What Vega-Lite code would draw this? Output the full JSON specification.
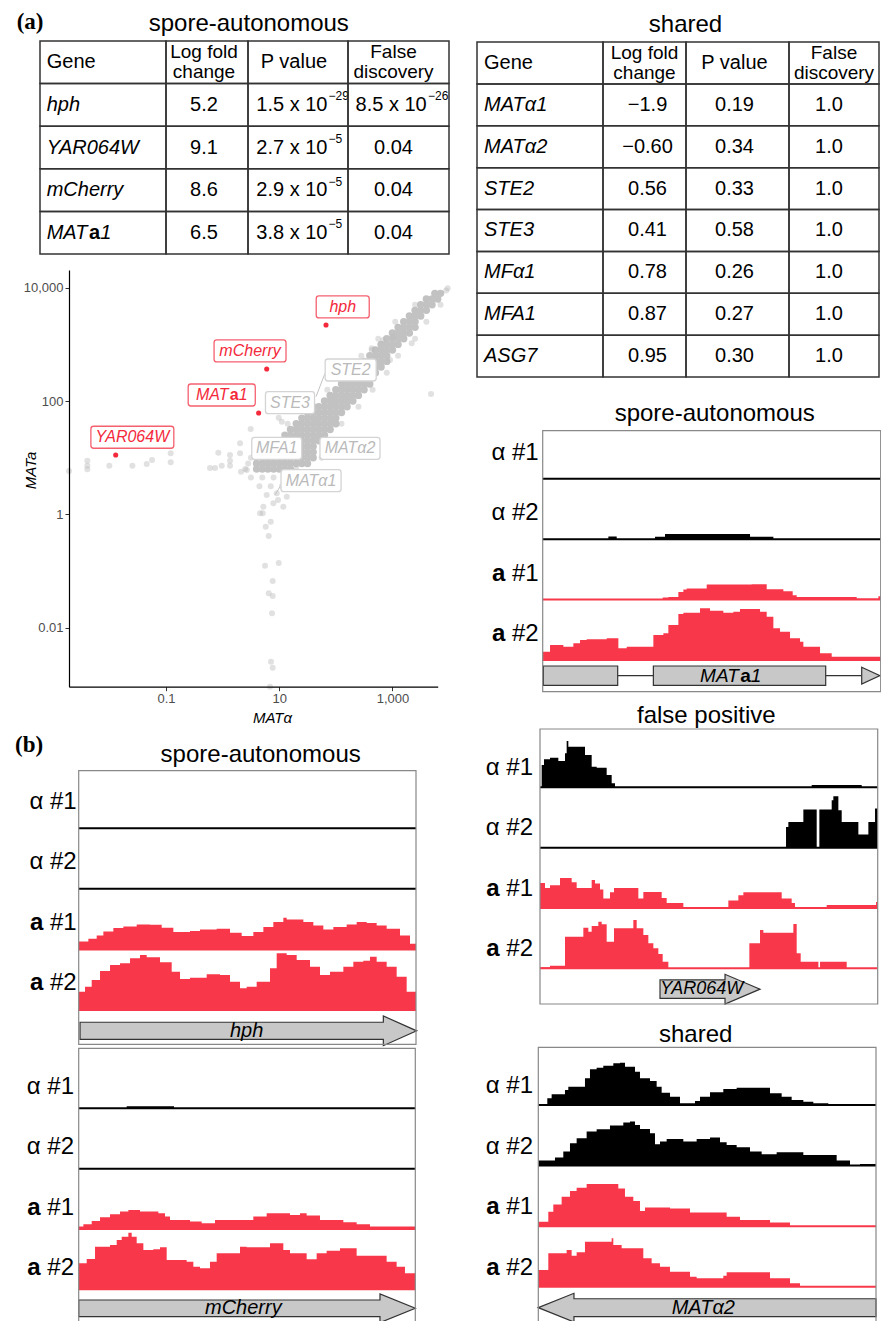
{
"$schema":"https://vega.github.io/schema/vega-lite/v6.json",
"width":881,"height":1321,"padding":0,"autosize":{"type":"none"},"background":"white",
"config":{"view":{"stroke":null},"font":"Liberation Sans","text":{"font":"Liberation Sans","color":"#000"}},
"datasets":{
"t1":[
{"r":"h","g":"Gene","l":"Log fold\nchange","p":"P value","f":"False\ndiscovery"},
{"r":"hph","g":"hph","l":"5.2","pb":"1.5 x 10","pe":"−29","fb":"8.5 x 10","fe":"−26"},
{"r":"YAR064W","g":"YAR064W","l":"9.1","pb":"2.7 x 10","pe":"−5","f":"0.04"},
{"r":"mCherry","g":"mCherry","l":"8.6","pb":"2.9 x 10","pe":"−5","f":"0.04"},
{"r":"MATa1","g":"MATa1","l":"6.5","pb":"3.8 x 10","pe":"−5","f":"0.04"}],
"t2":[
{"r":"h","g":"Gene","l":"Log fold\nchange","p":"P value","f":"False\ndiscovery"},
{"r":"MATα1","g":"MATα1","l":"−1.9","p":"0.19","f":"1.0"},
{"r":"MATα2","g":"MATα2","l":"−0.60","p":"0.34","f":"1.0"},
{"r":"STE2","g":"STE2","l":"0.56","p":"0.33","f":"1.0"},
{"r":"STE3","g":"STE3","l":"0.41","p":"0.58","f":"1.0"},
{"r":"MFα1","g":"MFα1","l":"0.78","p":"0.26","f":"1.0"},
{"r":"MFA1","g":"MFA1","l":"0.87","p":"0.27","f":"1.0"},
{"r":"ASG7","g":"ASG7","l":"0.95","p":"0.30","f":"1.0"}],
"core":[
{"a":5623,"b":7943},{"a":7079,"b":7943},
{"a":3981,"b":6310},{"a":5012,"b":6310},{"a":6310,"b":6310},
{"a":3162,"b":5012},{"a":3981,"b":5012},{"a":5012,"b":5012},
{"a":2512,"b":3981},{"a":3162,"b":3981},{"a":3981,"b":3981},
{"a":1995,"b":3162},{"a":2512,"b":3162},{"a":3162,"b":3162},
{"a":1585,"b":2512},{"a":1995,"b":2512},{"a":2512,"b":2512},
{"a":1259,"b":1995},{"a":1585,"b":1995},{"a":1995,"b":1995},{"a":2512,"b":1995},
{"a":1000,"b":1585},{"a":1259,"b":1585},{"a":1585,"b":1585},{"a":1995,"b":1585},
{"a":794,"b":1259},{"a":1000,"b":1259},{"a":1259,"b":1259},{"a":1585,"b":1259},
{"a":631,"b":1000},{"a":794,"b":1000},{"a":1000,"b":1000},{"a":1259,"b":1000},
{"a":501,"b":794},{"a":631,"b":794},{"a":794,"b":794},{"a":1000,"b":794},
{"a":398,"b":631},{"a":501,"b":631},{"a":631,"b":631},{"a":794,"b":631},
{"a":316,"b":501},{"a":398,"b":501},{"a":501,"b":501},{"a":631,"b":501},{"a":794,"b":501},
{"a":251,"b":398},{"a":316,"b":398},{"a":398,"b":398},{"a":501,"b":398},{"a":631,"b":398},
{"a":200,"b":316},{"a":251,"b":316},{"a":316,"b":316},{"a":398,"b":316},{"a":501,"b":316},
{"a":158,"b":251},{"a":200,"b":251},{"a":251,"b":251},{"a":316,"b":251},{"a":398,"b":251},
{"a":126,"b":200},{"a":158,"b":200},{"a":200,"b":200},{"a":251,"b":200},{"a":316,"b":200},{"a":398,"b":200},
{"a":100,"b":158},{"a":126,"b":158},{"a":158,"b":158},{"a":200,"b":158},{"a":251,"b":158},{"a":316,"b":158},
{"a":79.4,"b":126},{"a":100,"b":126},{"a":126,"b":126},{"a":158,"b":126},{"a":200,"b":126},{"a":251,"b":126},
{"a":63.1,"b":100},{"a":79.4,"b":100},{"a":100,"b":100},{"a":126,"b":100},{"a":158,"b":100},{"a":200,"b":100},
{"a":39.8,"b":79.4},{"a":50.1,"b":79.4},{"a":63.1,"b":79.4},{"a":79.4,"b":79.4},{"a":100,"b":79.4},{"a":126,"b":79.4},{"a":158,"b":79.4},
{"a":31.6,"b":63.1},{"a":39.8,"b":63.1},{"a":50.1,"b":63.1},{"a":63.1,"b":63.1},{"a":79.4,"b":63.1},{"a":100,"b":63.1},{"a":126,"b":63.1},
{"a":25.1,"b":50.1},{"a":31.6,"b":50.1},{"a":39.8,"b":50.1},{"a":50.1,"b":50.1},{"a":63.1,"b":50.1},{"a":79.4,"b":50.1},{"a":100,"b":50.1},
{"a":20,"b":39.8},{"a":25.1,"b":39.8},{"a":31.6,"b":39.8},{"a":39.8,"b":39.8},{"a":50.1,"b":39.8},{"a":63.1,"b":39.8},{"a":79.4,"b":39.8},{"a":100,"b":39.8},
{"a":15.8,"b":31.6},{"a":20,"b":31.6},{"a":25.1,"b":31.6},{"a":31.6,"b":31.6},{"a":39.8,"b":31.6},{"a":50.1,"b":31.6},{"a":63.1,"b":31.6},{"a":79.4,"b":31.6},
{"a":12.6,"b":25.1},{"a":15.8,"b":25.1},{"a":20,"b":25.1},{"a":25.1,"b":25.1},{"a":31.6,"b":25.1},{"a":39.8,"b":25.1},{"a":50.1,"b":25.1},{"a":63.1,"b":25.1},
{"a":10,"b":20},{"a":12.6,"b":20},{"a":15.8,"b":20},{"a":20,"b":20},{"a":25.1,"b":20},{"a":31.6,"b":20},{"a":39.8,"b":20},{"a":50.1,"b":20},
{"a":7.94,"b":15.8},{"a":10,"b":15.8},{"a":12.6,"b":15.8},{"a":15.8,"b":15.8},{"a":20,"b":15.8},{"a":25.1,"b":15.8},{"a":31.6,"b":15.8},{"a":39.8,"b":15.8},
{"a":6.31,"b":12.6},{"a":7.94,"b":12.6},{"a":10,"b":12.6},{"a":12.6,"b":12.6},{"a":15.8,"b":12.6},{"a":20,"b":12.6},{"a":25.1,"b":12.6},{"a":31.6,"b":12.6},{"a":39.8,"b":12.6},
{"a":5.01,"b":10},{"a":6.31,"b":10},{"a":7.94,"b":10},{"a":10,"b":10},{"a":12.6,"b":10},{"a":15.8,"b":10},{"a":20,"b":10},{"a":25.1,"b":10},{"a":31.6,"b":10},{"a":39.8,"b":10},
{"a":3.98,"b":7.94},{"a":5.01,"b":7.94},{"a":6.31,"b":7.94},{"a":7.94,"b":7.94},{"a":10,"b":7.94},{"a":12.6,"b":7.94},{"a":15.8,"b":7.94},{"a":20,"b":7.94},{"a":25.1,"b":7.94},{"a":31.6,"b":7.94},
{"a":3.98,"b":6.31},{"a":5.01,"b":6.31},{"a":6.31,"b":6.31},{"a":7.94,"b":6.31},{"a":10,"b":6.31},{"a":12.6,"b":6.31},{"a":15.8,"b":6.31}],
"sc":[
{"a":0.00193,"b":5.85},{"a":0.00407,"b":8.89},{"a":0.00407,"b":7.26},{"a":0.00407,"b":6.27},{"a":0.00996,"b":7.26},{"a":0.0254,"b":7.26},{"a":0.0456,"b":7.78},{"a":0.0566,"b":9.14},{"a":0.121,"b":12.0},{"a":0.121,"b":8.34},
{"a":0.598,"b":6.61},{"a":0.734,"b":6.61},{"a":0.84,"b":12.3},{"a":0.964,"b":7.26},{"a":1.35,"b":11.2},{"a":1.35,"b":7.26},{"a":2.03,"b":18.0},{"a":2.03,"b":12.0},{"a":2.11,"b":5.69},{"a":3.13,"b":32.2},{"a":2.67,"b":6.10},{"a":1.35,"b":8.89},
{"a":5.11,"b":1.05},{"a":5.77,"b":0.61},{"a":7.08,"b":0.746},{"a":6.53,"b":0.418},{"a":5.61,"b":0.125},{"a":9.8,"b":0.14},{"a":7.67,"b":0.0671},{"a":6.53,"b":0.0407},{"a":7.67,"b":0.0365},{"a":7.46,"b":0.0181},{"a":7.16,"b":0.00254},{"a":7.67,"b":0.00199},{"a":6.87,"b":0.000918},
{"a":6.01,"b":2.21},{"a":7.87,"b":1.58},{"a":9.04,"b":2.37},{"a":11.8,"b":1.37},{"a":13.6,"b":2.06},{"a":9.53,"b":1.8},{"a":5.24,"b":1.37},{"a":4.58,"b":1.05},
{"a":4808,"b":133},{"a":2193,"b":1045},{"a":908,"b":531},{"a":690,"b":1197},{"a":1038,"b":1368},{"a":9484,"b":9750},{"a":431,"b":853},{"a":431,"b":796},{"a":8913,"b":8913},
{"a":9.8,"b":50.9},{"a":11.1,"b":43.4},
{"a":3.16,"b":10},{"a":56.2,"b":10},{"a":7.08,"b":20},{"a":70.8,"b":20},{"a":14.1,"b":39.8},{"a":126,"b":39.8},{"a":31.6,"b":79.4},{"a":251,"b":79.4},{"a":70.8,"b":158},{"a":447,"b":158},{"a":141,"b":316},{"a":794,"b":316},{"a":282,"b":631},{"a":1259,"b":631},{"a":562,"b":1259},{"a":2512,"b":1259},{"a":1122,"b":2512},{"a":3981,"b":2512},{"a":2512,"b":5012},{"a":7079,"b":5012},
{"a":2.51,"b":6.31},{"a":20,"b":6.31},{"a":3.16,"b":4.47},{"a":5.01,"b":4.47},{"a":7.94,"b":4.47},{"a":12.6,"b":4.47},{"a":17.8,"b":4.47},{"a":4.47,"b":3.16},{"a":7.08,"b":3.16},{"a":11.2,"b":3.16},{"a":2.82,"b":7.94}],
"sig":[{"lab":"hph","a":67.1,"b":2198},{"lab":"mCherry","a":6.01,"b":368},{"lab":"MATa1","a":4.33,"b":61.7},{"lab":"YAR064W","a":0.0129,"b":11.2}],
"labs":[
{"lab":"hph","c":"s","a":132.4,"b":4571},
{"lab":"mCherry","c":"s","a":3.05,"b":766},
{"lab":"MATa1","c":"s","a":0.964,"b":128},
{"lab":"YAR064W","c":"s","a":0.0254,"b":23.0},
{"lab":"STE2","c":"h","a":183,"b":353,"px":44.7,"py":120,"qx":64.4,"qy":309},
{"lab":"STE3","c":"h","a":15.5,"b":93.8},
{"lab":"MFA1","c":"h","a":9.04,"b":14.7},
{"lab":"MATα2","c":"h","a":178,"b":14.7},
{"lab":"MATα1","c":"h","a":36.5,"b":3.94,"px":8.43,"py":2.21,"qx":10.3,"qy":3.09}],
"panels":[
{"p":"P1","title":"spore-autonomous","gene":"MATa1"},
{"p":"P2","title":"false positive","gene":"YAR064W"},
{"p":"P3","title":"shared","gene":"MATα2"},
{"p":"P4","title":"spore-autonomous","gene":"hph"},
{"p":"P5","title":"","gene":"mCherry"}],
"trk":[
{"p":"P1","t":"α #1","n":"#1","s":"α"},{"p":"P1","t":"α #2","n":"#2","s":"α"},{"p":"P1","t":"a #1","n":"#1","s":"a"},{"p":"P1","t":"a #2","n":"#2","s":"a"},
{"p":"P2","t":"α #1","n":"#1","s":"α"},{"p":"P2","t":"α #2","n":"#2","s":"α"},{"p":"P2","t":"a #1","n":"#1","s":"a"},{"p":"P2","t":"a #2","n":"#2","s":"a"},
{"p":"P3","t":"α #1","n":"#1","s":"α"},{"p":"P3","t":"α #2","n":"#2","s":"α"},{"p":"P3","t":"a #1","n":"#1","s":"a"},{"p":"P3","t":"a #2","n":"#2","s":"a"},
{"p":"P4","t":"α #1","n":"#1","s":"α"},{"p":"P4","t":"α #2","n":"#2","s":"α"},{"p":"P4","t":"a #1","n":"#1","s":"a"},{"p":"P4","t":"a #2","n":"#2","s":"a"},
{"p":"P5","t":"α #1","n":"#1","s":"α"},{"p":"P5","t":"α #2","n":"#2","s":"α"},{"p":"P5","t":"a #1","n":"#1","s":"a"},{"p":"P5","t":"a #2","n":"#2","s":"a"}],
"shapes":[
{"p":"P4","id":"h","x":240,"y":0.58,"y2":-0.58},{"p":"P4","id":"h","x":1150,"y":0.58,"y2":-0.58},{"p":"P4","id":"h","x":1150,"y":1,"y2":-1},{"p":"P4","id":"h","x":1250,"y":0,"y2":0},
{"p":"P5","id":"h","x":236,"y":0.58,"y2":-0.58},{"p":"P5","id":"h","x":1140,"y":0.58,"y2":-0.58},{"p":"P5","id":"h","x":1140,"y":1,"y2":-1},{"p":"P5","id":"h","x":1246,"y":0,"y2":0},
{"p":"P2","id":"h","x":570,"y":0.62,"y2":-0.62},{"p":"P2","id":"h","x":765,"y":0.62,"y2":-0.62},{"p":"P2","id":"h","x":765,"y":1,"y2":-1},{"p":"P2","id":"h","x":870,"y":0,"y2":0},
{"p":"P3","id":"h","x":205,"y":0,"y2":0},{"p":"P3","id":"h","x":312,"y":1,"y2":-1},{"p":"P3","id":"h","x":312,"y":0.62,"y2":-0.62},{"p":"P3","id":"h","x":1218,"y":0.62,"y2":-0.62},
{"p":"P1","id":"e1","x":220,"y":1,"y2":-1},{"p":"P1","id":"e1","x":443,"y":1,"y2":-1},
{"p":"P1","id":"e2","x":550,"y":1,"y2":-1},{"p":"P1","id":"e2","x":1067,"y":1,"y2":-1},
{"p":"P1","id":"t","x":1175,"y":0.87,"y2":-0.87},{"p":"P1","id":"t","x":1230,"y":0,"y2":0}],
"lines":[{"p":"P1","s":443,"e":550},{"p":"P1","s":1067,"e":1175}],
"cov":[
{"k":"P1A2","x":218,"v":0},{"k":"P1A2","x":415,"v":8},{"k":"P1A2","x":440,"v":0},{"k":"P1A2","x":555,"v":7},{"k":"P1A2","x":585,"v":15},{"k":"P1A2","x":840,"v":7},{"k":"P1A2","x":910,"v":0},{"k":"P1A2","x":1232,"v":0},
{"k":"P1B1","x":218,"v":0},{"k":"P1B1","x":578,"v":6},{"k":"P1B1","x":595,"v":8},{"k":"P1B1","x":625,"v":23},{"k":"P1B1","x":640,"v":30},{"k":"P1B1","x":650,"v":33},{"k":"P1B1","x":710,"v":45},{"k":"P1B1","x":845,"v":46},{"k":"P1B1","x":890,"v":31},{"k":"P1B1","x":940,"v":25},{"k":"P1B1","x":968,"v":13},{"k":"P1B1","x":980,"v":8},{"k":"P1B1","x":1160,"v":3},{"k":"P1B1","x":1225,"v":10},{"k":"P1B1","x":1232,"v":10},
{"k":"P1B2","x":218,"v":25},{"k":"P1B2","x":240,"v":45},{"k":"P1B2","x":280,"v":40},{"k":"P1B2","x":310,"v":50},{"k":"P1B2","x":330,"v":60},{"k":"P1B2","x":350,"v":62},{"k":"P1B2","x":410,"v":65},{"k":"P1B2","x":445,"v":35},{"k":"P1B2","x":470,"v":40},{"k":"P1B2","x":550,"v":75},{"k":"P1B2","x":580,"v":80},{"k":"P1B2","x":595,"v":105},{"k":"P1B2","x":625,"v":138},{"k":"P1B2","x":640,"v":142},{"k":"P1B2","x":690,"v":155},{"k":"P1B2","x":720,"v":148},{"k":"P1B2","x":760,"v":142},{"k":"P1B2","x":790,"v":145},{"k":"P1B2","x":810,"v":153},{"k":"P1B2","x":870,"v":145},{"k":"P1B2","x":890,"v":130},{"k":"P1B2","x":910,"v":95},{"k":"P1B2","x":930,"v":85},{"k":"P1B2","x":960,"v":65},{"k":"P1B2","x":990,"v":55},{"k":"P1B2","x":1000,"v":40},{"k":"P1B2","x":1050,"v":20},{"k":"P1B2","x":1085,"v":10},{"k":"P1B2","x":1232,"v":10},
{"k":"P2A1","x":210,"v":0},{"k":"P2A1","x":215,"v":67},{"k":"P2A1","x":222,"v":84},{"k":"P2A1","x":240,"v":89},{"k":"P2A1","x":265,"v":79},{"k":"P2A1","x":285,"v":102},{"k":"P2A1","x":290,"v":139},{"k":"P2A1","x":295,"v":122},{"k":"P2A1","x":345,"v":97},{"k":"P2A1","x":365,"v":62},{"k":"P2A1","x":380,"v":59},{"k":"P2A1","x":410,"v":37},{"k":"P2A1","x":425,"v":12},{"k":"P2A1","x":435,"v":0},{"k":"P2A1","x":1025,"v":7},{"k":"P2A1","x":1175,"v":0},{"k":"P2A1","x":1223,"v":0},
{"k":"P2A2","x":210,"v":0},{"k":"P2A2","x":948,"v":62},{"k":"P2A2","x":955,"v":77},{"k":"P2A2","x":1000,"v":114},{"k":"P2A2","x":1040,"v":0},{"k":"P2A2","x":1048,"v":114},{"k":"P2A2","x":1085,"v":142},{"k":"P2A2","x":1090,"v":154},{"k":"P2A2","x":1105,"v":112},{"k":"P2A2","x":1115,"v":77},{"k":"P2A2","x":1165,"v":39},{"k":"P2A2","x":1195,"v":77},{"k":"P2A2","x":1215,"v":117},{"k":"P2A2","x":1223,"v":117},
{"k":"P2B1","x":210,"v":75},{"k":"P2B1","x":225,"v":60},{"k":"P2B1","x":240,"v":68},{"k":"P2B1","x":270,"v":90},{"k":"P2B1","x":305,"v":77},{"k":"P2B1","x":320,"v":60},{"k":"P2B1","x":365,"v":84},{"k":"P2B1","x":375,"v":73},{"k":"P2B1","x":390,"v":55},{"k":"P2B1","x":400,"v":28},{"k":"P2B1","x":420,"v":47},{"k":"P2B1","x":432,"v":60},{"k":"P2B1","x":505,"v":28},{"k":"P2B1","x":520,"v":48},{"k":"P2B1","x":575,"v":30},{"k":"P2B1","x":590,"v":15},{"k":"P2B1","x":640,"v":3},{"k":"P2B1","x":775,"v":22},{"k":"P2B1","x":805,"v":38},{"k":"P2B1","x":820,"v":47},{"k":"P2B1","x":935,"v":28},{"k":"P2B1","x":965,"v":15},{"k":"P2B1","x":975,"v":3},{"k":"P2B1","x":1070,"v":9},{"k":"P2B1","x":1218,"v":18},{"k":"P2B1","x":1223,"v":18},
{"k":"P2B2","x":210,"v":3},{"k":"P2B2","x":240,"v":8},{"k":"P2B2","x":285,"v":95},{"k":"P2B2","x":340,"v":122},{"k":"P2B2","x":355,"v":110},{"k":"P2B2","x":365,"v":127},{"k":"P2B2","x":385,"v":140},{"k":"P2B2","x":395,"v":132},{"k":"P2B2","x":410,"v":80},{"k":"P2B2","x":432,"v":120},{"k":"P2B2","x":490,"v":145},{"k":"P2B2","x":500,"v":120},{"k":"P2B2","x":520,"v":100},{"k":"P2B2","x":535,"v":75},{"k":"P2B2","x":550,"v":60},{"k":"P2B2","x":565,"v":43},{"k":"P2B2","x":578,"v":20},{"k":"P2B2","x":595,"v":0},{"k":"P2B2","x":838,"v":75},{"k":"P2B2","x":870,"v":115},{"k":"P2B2","x":880,"v":107},{"k":"P2B2","x":970,"v":133},{"k":"P2B2","x":980,"v":45},{"k":"P2B2","x":992,"v":20},{"k":"P2B2","x":1045,"v":0},{"k":"P2B2","x":1050,"v":20},{"k":"P2B2","x":1130,"v":0},{"k":"P2B2","x":1223,"v":0},
{"k":"P3A1","x":205,"v":0},{"k":"P3A1","x":232,"v":20},{"k":"P3A1","x":245,"v":32},{"k":"P3A1","x":285,"v":45},{"k":"P3A1","x":295,"v":55},{"k":"P3A1","x":345,"v":80},{"k":"P3A1","x":360,"v":107},{"k":"P3A1","x":380,"v":112},{"k":"P3A1","x":400,"v":118},{"k":"P3A1","x":430,"v":125},{"k":"P3A1","x":450,"v":127},{"k":"P3A1","x":465,"v":115},{"k":"P3A1","x":495,"v":100},{"k":"P3A1","x":510,"v":80},{"k":"P3A1","x":540,"v":72},{"k":"P3A1","x":560,"v":55},{"k":"P3A1","x":575,"v":37},{"k":"P3A1","x":600,"v":25},{"k":"P3A1","x":630,"v":5},{"k":"P3A1","x":675,"v":12},{"k":"P3A1","x":690,"v":25},{"k":"P3A1","x":720,"v":38},{"k":"P3A1","x":760,"v":48},{"k":"P3A1","x":800,"v":52},{"k":"P3A1","x":900,"v":35},{"k":"P3A1","x":935,"v":25},{"k":"P3A1","x":965,"v":15},{"k":"P3A1","x":1000,"v":10},{"k":"P3A1","x":1030,"v":5},{"k":"P3A1","x":1075,"v":0},{"k":"P3A1","x":1218,"v":0},
{"k":"P3A2","x":205,"v":15},{"k":"P3A2","x":255,"v":24},{"k":"P3A2","x":280,"v":42},{"k":"P3A2","x":300,"v":67},{"k":"P3A2","x":320,"v":82},{"k":"P3A2","x":350,"v":102},{"k":"P3A2","x":380,"v":109},{"k":"P3A2","x":420,"v":120},{"k":"P3A2","x":460,"v":129},{"k":"P3A2","x":480,"v":132},{"k":"P3A2","x":495,"v":122},{"k":"P3A2","x":510,"v":110},{"k":"P3A2","x":540,"v":97},{"k":"P3A2","x":555,"v":64},{"k":"P3A2","x":570,"v":72},{"k":"P3A2","x":590,"v":80},{"k":"P3A2","x":640,"v":72},{"k":"P3A2","x":680,"v":80},{"k":"P3A2","x":720,"v":84},{"k":"P3A2","x":750,"v":70},{"k":"P3A2","x":770,"v":62},{"k":"P3A2","x":800,"v":55},{"k":"P3A2","x":840,"v":42},{"k":"P3A2","x":875,"v":34},{"k":"P3A2","x":920,"v":40},{"k":"P3A2","x":1000,"v":32},{"k":"P3A2","x":1100,"v":15},{"k":"P3A2","x":1140,"v":0},{"k":"P3A2","x":1170,"v":5},{"k":"P3A2","x":1218,"v":5},
{"k":"P3B1","x":205,"v":13},{"k":"P3B1","x":235,"v":43},{"k":"P3B1","x":250,"v":65},{"k":"P3B1","x":275,"v":88},{"k":"P3B1","x":300,"v":105},{"k":"P3B1","x":320,"v":115},{"k":"P3B1","x":350,"v":126},{"k":"P3B1","x":445,"v":113},{"k":"P3B1","x":465,"v":88},{"k":"P3B1","x":490,"v":75},{"k":"P3B1","x":510,"v":45},{"k":"P3B1","x":525,"v":56},{"k":"P3B1","x":600,"v":53},{"k":"P3B1","x":660,"v":41},{"k":"P3B1","x":770,"v":28},{"k":"P3B1","x":810,"v":18},{"k":"P3B1","x":900,"v":11},{"k":"P3B1","x":960,"v":0},{"k":"P3B1","x":1218,"v":0},
{"k":"P3B2","x":205,"v":50},{"k":"P3B2","x":235,"v":100},{"k":"P3B2","x":290,"v":110},{"k":"P3B2","x":305,"v":93},{"k":"P3B2","x":320,"v":103},{"k":"P3B2","x":345,"v":135},{"k":"P3B2","x":425,"v":145},{"k":"P3B2","x":430,"v":125},{"k":"P3B2","x":455,"v":115},{"k":"P3B2","x":520,"v":85},{"k":"P3B2","x":545,"v":70},{"k":"P3B2","x":570,"v":60},{"k":"P3B2","x":600,"v":45},{"k":"P3B2","x":660,"v":30},{"k":"P3B2","x":680,"v":25},{"k":"P3B2","x":760,"v":33},{"k":"P3B2","x":770,"v":43},{"k":"P3B2","x":900,"v":25},{"k":"P3B2","x":960,"v":10},{"k":"P3B2","x":990,"v":0},{"k":"P3B2","x":1218,"v":0},
{"k":"P4B1","x":236,"v":24},{"k":"P4B1","x":265,"v":32},{"k":"P4B1","x":290,"v":42},{"k":"P4B1","x":310,"v":54},{"k":"P4B1","x":340,"v":64},{"k":"P4B1","x":370,"v":69},{"k":"P4B1","x":410,"v":75},{"k":"P4B1","x":450,"v":74},{"k":"P4B1","x":485,"v":65},{"k":"P4B1","x":520,"v":52},{"k":"P4B1","x":570,"v":55},{"k":"P4B1","x":600,"v":60},{"k":"P4B1","x":650,"v":62},{"k":"P4B1","x":690,"v":50},{"k":"P4B1","x":725,"v":40},{"k":"P4B1","x":760,"v":52},{"k":"P4B1","x":790,"v":67},{"k":"P4B1","x":820,"v":82},{"k":"P4B1","x":850,"v":95},{"k":"P4B1","x":860,"v":90},{"k":"P4B1","x":910,"v":82},{"k":"P4B1","x":940,"v":72},{"k":"P4B1","x":970,"v":60},{"k":"P4B1","x":1000,"v":67},{"k":"P4B1","x":1040,"v":75},{"k":"P4B1","x":1070,"v":82},{"k":"P4B1","x":1100,"v":79},{"k":"P4B1","x":1130,"v":72},{"k":"P4B1","x":1160,"v":62},{"k":"P4B1","x":1200,"v":42},{"k":"P4B1","x":1230,"v":17},{"k":"P4B1","x":1248,"v":17},
{"k":"P4B2","x":236,"v":55},{"k":"P4B2","x":255,"v":70},{"k":"P4B2","x":275,"v":90},{"k":"P4B2","x":300,"v":117},{"k":"P4B2","x":330,"v":135},{"k":"P4B2","x":360,"v":140},{"k":"P4B2","x":390,"v":155},{"k":"P4B2","x":420,"v":165},{"k":"P4B2","x":440,"v":158},{"k":"P4B2","x":480,"v":143},{"k":"P4B2","x":515,"v":115},{"k":"P4B2","x":540,"v":93},{"k":"P4B2","x":570,"v":97},{"k":"P4B2","x":620,"v":107},{"k":"P4B2","x":660,"v":105},{"k":"P4B2","x":690,"v":85},{"k":"P4B2","x":720,"v":65},{"k":"P4B2","x":740,"v":70},{"k":"P4B2","x":770,"v":85},{"k":"P4B2","x":810,"v":125},{"k":"P4B2","x":830,"v":170},{"k":"P4B2","x":860,"v":165},{"k":"P4B2","x":890,"v":150},{"k":"P4B2","x":930,"v":130},{"k":"P4B2","x":960,"v":105},{"k":"P4B2","x":990,"v":115},{"k":"P4B2","x":1030,"v":130},{"k":"P4B2","x":1060,"v":145},{"k":"P4B2","x":1090,"v":148},{"k":"P4B2","x":1110,"v":160},{"k":"P4B2","x":1130,"v":145},{"k":"P4B2","x":1160,"v":130},{"k":"P4B2","x":1190,"v":100},{"k":"P4B2","x":1220,"v":55},{"k":"P4B2","x":1248,"v":55},
{"k":"P5A1","x":236,"v":0},{"k":"P5A1","x":380,"v":6},{"k":"P5A1","x":522,"v":0},{"k":"P5A1","x":1246,"v":0},
{"k":"P5B1","x":236,"v":7},{"k":"P5B1","x":250,"v":14},{"k":"P5B1","x":275,"v":24},{"k":"P5B1","x":300,"v":35},{"k":"P5B1","x":330,"v":44},{"k":"P5B1","x":360,"v":52},{"k":"P5B1","x":385,"v":57},{"k":"P5B1","x":420,"v":52},{"k":"P5B1","x":475,"v":47},{"k":"P5B1","x":495,"v":37},{"k":"P5B1","x":510,"v":27},{"k":"P5B1","x":570,"v":22},{"k":"P5B1","x":605,"v":17},{"k":"P5B1","x":645,"v":27},{"k":"P5B1","x":760,"v":37},{"k":"P5B1","x":800,"v":47},{"k":"P5B1","x":870,"v":42},{"k":"P5B1","x":900,"v":47},{"k":"P5B1","x":920,"v":40},{"k":"P5B1","x":960,"v":27},{"k":"P5B1","x":1030,"v":20},{"k":"P5B1","x":1070,"v":14},{"k":"P5B1","x":1110,"v":7},{"k":"P5B1","x":1246,"v":7},
{"k":"P5B2","x":236,"v":78},{"k":"P5B2","x":260,"v":91},{"k":"P5B2","x":285,"v":128},{"k":"P5B2","x":330,"v":133},{"k":"P5B2","x":350,"v":148},{"k":"P5B2","x":365,"v":158},{"k":"P5B2","x":385,"v":170},{"k":"P5B2","x":395,"v":158},{"k":"P5B2","x":410,"v":138},{"k":"P5B2","x":430,"v":118},{"k":"P5B2","x":460,"v":120},{"k":"P5B2","x":480,"v":126},{"k":"P5B2","x":500,"v":88},{"k":"P5B2","x":560,"v":83},{"k":"P5B2","x":580,"v":68},{"k":"P5B2","x":600,"v":63},{"k":"P5B2","x":630,"v":83},{"k":"P5B2","x":650,"v":108},{"k":"P5B2","x":720,"v":128},{"k":"P5B2","x":740,"v":126},{"k":"P5B2","x":810,"v":138},{"k":"P5B2","x":850,"v":118},{"k":"P5B2","x":870,"v":108},{"k":"P5B2","x":920,"v":90},{"k":"P5B2","x":950,"v":108},{"k":"P5B2","x":980,"v":116},{"k":"P5B2","x":1020,"v":123},{"k":"P5B2","x":1070,"v":101},{"k":"P5B2","x":1160,"v":83},{"k":"P5B2","x":1190,"v":68},{"k":"P5B2","x":1215,"v":48},{"k":"P5B2","x":1246,"v":48}]
},
"layer":[
{"layer":[
  {"data":{"name":"core"},"mark":{"type":"circle","size":55,"color":"#c2c2c2","opacity":1},
   "encoding":{"x":{"field":"a","type":"quantitative","scale":{"type":"log","domain":[0.00193,6310],"range":[69,437.7],"nice":false,"zero":false},
     "axis":{"orient":"bottom","offset":-634.3,"zindex":1,"values":[0.1,10,1000],"format":",","grid":false,"title":"MATα","titleX":272,"titleY":30.3,"titleAlign":"center","titleBaseline":"middle","titleFont":"Liberation Sans","titleFontStyle":"italic","titleFontWeight":"normal","titleFontSize":15,"titleColor":"#000","labelFont":"Liberation Sans","labelFontSize":13,"labelColor":"#4d4d4d","labelPadding":2,"tickColor":"#333","tickSize":4,"domainColor":"#000","domainWidth":1.2}},
    "y":{"field":"b","type":"quantitative","scale":{"type":"log","domain":[0.000918,20500],"range":[686.7,270],"nice":false,"zero":false},
     "axis":{"orient":"left","offset":-69,"zindex":1,"values":[0.01,1,100,10000],"format":",","grid":false,"title":"MATa","titleX":-39,"titleY":470,"titleAngle":270,"titleAlign":"center","titleBaseline":"middle","titleFont":"Liberation Sans","titleFontStyle":"italic","titleFontWeight":"normal","titleFontSize":15,"titleColor":"#000","labelFont":"Liberation Sans","labelFontSize":13,"labelColor":"#4d4d4d","labelPadding":2,"tickColor":"#333","tickSize":4,"domainColor":"#000","domainWidth":1.2}}}},
  {"data":{"name":"sc"},"mark":{"type":"circle","size":36,"color":"#bdbdbd","opacity":0.45},
   "encoding":{"x":{"field":"a","type":"quantitative","scale":{"type":"log","domain":[0.00193,6310],"range":[69,437.7],"nice":false,"zero":false},"axis":null},"y":{"field":"b","type":"quantitative","scale":{"type":"log","domain":[0.000918,20500],"range":[686.7,270],"nice":false,"zero":false},"axis":null}}},
  {"data":{"name":"labs"},"transform":[{"filter":"isValid(datum.px)"}],"mark":{"type":"rule","color":"#c4c4c4","strokeWidth":1},
   "encoding":{"x":{"field":"px","type":"quantitative","scale":{"type":"log","domain":[0.00193,6310],"range":[69,437.7],"nice":false,"zero":false},"axis":null},"y":{"field":"py","type":"quantitative","scale":{"type":"log","domain":[0.000918,20500],"range":[686.7,270],"nice":false,"zero":false},"axis":null},"x2":{"field":"qx"},"y2":{"field":"qy"}}},
  {"data":{"name":"sig"},"mark":{"type":"circle","size":26,"color":"#f42a3c","opacity":1},
   "encoding":{"x":{"field":"a","type":"quantitative","scale":{"type":"log","domain":[0.00193,6310],"range":[69,437.7],"nice":false,"zero":false},"axis":null},"y":{"field":"b","type":"quantitative","scale":{"type":"log","domain":[0.000918,20500],"range":[686.7,270],"nice":false,"zero":false},"axis":null}}},
  {"data":{"name":"labs"},"mark":{"type":"point","size":484,"filled":true,"fill":"white","strokeWidth":1.3,"opacity":1},
   "encoding":{"x":{"field":"a","type":"quantitative","scale":{"type":"log","domain":[0.00193,6310],"range":[69,437.7],"nice":false,"zero":false},"axis":null},"y":{"field":"b","type":"quantitative","scale":{"type":"log","domain":[0.000918,20500],"range":[686.7,270],"nice":false,"zero":false},"axis":null},
    "shape":{"field":"lab","type":"nominal","legend":null,"scale":{"domain":["hph","mCherry","MATa1","YAR064W","STE2","STE3","MFA1","MATα2","MATα1"],"range":[
     "M-2.16,-1H2.16Q2.41,-1,2.41,-0.75V0.75Q2.41,1,2.16,1H-2.16Q-2.41,1,-2.41,0.75V-0.75Q-2.41,-1,-2.16,-1Z",
     "M-3.02,-1H3.02Q3.27,-1,3.27,-0.75V0.75Q3.27,1,3.02,1H-3.02Q-3.27,1,-3.27,0.75V-0.75Q-3.27,-1,-3.02,-1Z",
     "M-2.8,-1H2.8Q3.05,-1,3.05,-0.75V0.75Q3.05,1,2.8,1H-2.8Q-3.05,1,-3.05,0.75V-0.75Q-3.05,-1,-2.8,-1Z",
     "M-3.52,-1H3.52Q3.77,-1,3.77,-0.75V0.75Q3.77,1,3.52,1H-3.52Q-3.77,1,-3.77,0.75V-0.75Q-3.77,-1,-3.52,-1Z",
     "M-2.07,-1H2.07Q2.32,-1,2.32,-0.75V0.75Q2.32,1,2.07,1H-2.07Q-2.32,1,-2.32,0.75V-0.75Q-2.32,-1,-2.07,-1Z",
     "M-1.98,-1H1.98Q2.23,-1,2.23,-0.75V0.75Q2.23,1,1.98,1H-1.98Q-2.23,1,-2.23,0.75V-0.75Q-2.23,-1,-1.98,-1Z",
     "M-2.02,-1H2.02Q2.27,-1,2.27,-0.75V0.75Q2.27,1,2.02,1H-2.02Q-2.27,1,-2.27,0.75V-0.75Q-2.27,-1,-2.02,-1Z",
     "M-2.48,-1H2.48Q2.73,-1,2.73,-0.75V0.75Q2.73,1,2.48,1H-2.48Q-2.73,1,-2.73,0.75V-0.75Q-2.73,-1,-2.48,-1Z",
     "M-2.48,-1H2.48Q2.73,-1,2.73,-0.75V0.75Q2.73,1,2.48,1H-2.48Q-2.73,1,-2.73,0.75V-0.75Q-2.73,-1,-2.48,-1Z"]}},
    "stroke":{"field":"c","type":"nominal","legend":null,"scale":{"domain":["s","h"],"range":["#f5606f","#d4d4d4"]}}}},
  {"data":{"name":"labs"},"transform":[{"filter":"datum.c=='s' && datum.lab!='MATa1'"}],"mark":{"type":"text","fontSize":16,"fontStyle":"italic","color":"#f42a3c","baseline":"middle"},
   "encoding":{"x":{"field":"a","type":"quantitative","scale":{"type":"log","domain":[0.00193,6310],"range":[69,437.7],"nice":false,"zero":false},"axis":null},"y":{"field":"b","type":"quantitative","scale":{"type":"log","domain":[0.000918,20500],"range":[686.7,270],"nice":false,"zero":false},"axis":null},"text":{"field":"lab"}}},
  {"data":{"name":"labs"},"transform":[{"filter":"datum.c=='h'"}],"mark":{"type":"text","fontSize":16,"fontStyle":"italic","color":"#bababa","baseline":"middle"},
   "encoding":{"x":{"field":"a","type":"quantitative","scale":{"type":"log","domain":[0.00193,6310],"range":[69,437.7],"nice":false,"zero":false},"axis":null},"y":{"field":"b","type":"quantitative","scale":{"type":"log","domain":[0.000918,20500],"range":[686.7,270],"nice":false,"zero":false},"axis":null},"text":{"field":"lab"}}},
  {"data":{"name":"labs"},"transform":[{"filter":"datum.lab=='MATa1'"}],"mark":{"type":"text","text":"MAT","align":"left","fontSize":16,"fontStyle":"italic","color":"#f42a3c","baseline":"middle","dx":-25.8},
   "encoding":{"x":{"field":"a","type":"quantitative","scale":{"type":"log","domain":[0.00193,6310],"range":[69,437.7],"nice":false,"zero":false},"axis":null},"y":{"field":"b","type":"quantitative","scale":{"type":"log","domain":[0.000918,20500],"range":[686.7,270],"nice":false,"zero":false},"axis":null}}},
  {"data":{"name":"labs"},"transform":[{"filter":"datum.lab=='MATa1'"}],"mark":{"type":"text","text":"a","align":"left","fontSize":16,"fontWeight":"bold","color":"#f42a3c","baseline":"middle","dx":8.0},
   "encoding":{"x":{"field":"a","type":"quantitative","scale":{"type":"log","domain":[0.00193,6310],"range":[69,437.7],"nice":false,"zero":false},"axis":null},"y":{"field":"b","type":"quantitative","scale":{"type":"log","domain":[0.000918,20500],"range":[686.7,270],"nice":false,"zero":false},"axis":null}}},
  {"data":{"name":"labs"},"transform":[{"filter":"datum.lab=='MATa1'"}],"mark":{"type":"text","text":"1","align":"left","fontSize":16,"fontStyle":"italic","color":"#f42a3c","baseline":"middle","dx":16.9},
   "encoding":{"x":{"field":"a","type":"quantitative","scale":{"type":"log","domain":[0.00193,6310],"range":[69,437.7],"nice":false,"zero":false},"axis":null},"y":{"field":"b","type":"quantitative","scale":{"type":"log","domain":[0.000918,20500],"range":[686.7,270],"nice":false,"zero":false},"axis":null}}}
 ],
 "resolve":{"axis":{"x":"independent","y":"independent"}}
},
{"data":{"name":"t1"},
 "layer":[
  {"layer":[
   {"mark":{"type":"rect","fill":"white","fillOpacity":0,"stroke":"#333","strokeWidth":1.5},"encoding":{"x":{"datum":0,"type":"quantitative","scale":{"domain":[0,1],"range":[40,166],"nice":false,"zero":false},"axis":null},"x2":{"datum":1},"y":{"field":"r","type":"nominal","sort":null,"axis":null,"scale":{"type":"band","domain":["h","hph","YAR064W","mCherry","MATa1"],"range":[41,254],"paddingInner":0,"paddingOuter":0}}}},
   {"transform":[{"filter":"datum.r=='h'"}],"mark":{"type":"text","align":"left","baseline":"middle","fontSize":20,"dx":6.7},"encoding":{"x":{"datum":0,"type":"quantitative","scale":{"domain":[0,1],"range":[40,166],"nice":false,"zero":false},"axis":null},"y":{"field":"r","type":"nominal","sort":null,"axis":null,"scale":{"type":"band","domain":["h","hph","YAR064W","mCherry","MATa1"],"range":[41,254],"paddingInner":0,"paddingOuter":0}},"text":{"field":"g"}}},
   {"transform":[{"filter":"datum.r!='h' && datum.g!='MATa1'"}],"mark":{"type":"text","align":"left","baseline":"middle","fontSize":20,"fontStyle":"italic","dx":6.7},"encoding":{"x":{"datum":0,"type":"quantitative","scale":{"domain":[0,1],"range":[40,166],"nice":false,"zero":false},"axis":null},"y":{"field":"r","type":"nominal","sort":null,"axis":null,"scale":{"type":"band","domain":["h","hph","YAR064W","mCherry","MATa1"],"range":[41,254],"paddingInner":0,"paddingOuter":0}},"text":{"field":"g"}}},
   {"transform":[{"filter":"datum.g=='MATa1'"}],"mark":{"type":"text","text":"MAT","align":"left","baseline":"middle","fontSize":20,"fontStyle":"italic","dx":6.7},"encoding":{"x":{"datum":0,"type":"quantitative","scale":{"domain":[0,1],"range":[40,166],"nice":false,"zero":false},"axis":null},"y":{"field":"r","type":"nominal","sort":null,"axis":null,"scale":{"type":"band","domain":["h","hph","YAR064W","mCherry","MATa1"],"range":[41,254],"paddingInner":0,"paddingOuter":0}}}},
   {"transform":[{"filter":"datum.g=='MATa1'"}],"mark":{"type":"text","text":"a","align":"left","baseline":"middle","fontSize":20,"fontWeight":"bold","dx":49},"encoding":{"x":{"datum":0,"type":"quantitative","scale":{"domain":[0,1],"range":[40,166],"nice":false,"zero":false},"axis":null},"y":{"field":"r","type":"nominal","sort":null,"axis":null,"scale":{"type":"band","domain":["h","hph","YAR064W","mCherry","MATa1"],"range":[41,254],"paddingInner":0,"paddingOuter":0}}}},
   {"transform":[{"filter":"datum.g=='MATa1'"}],"mark":{"type":"text","text":"1","align":"left","baseline":"middle","fontSize":20,"fontStyle":"italic","dx":60.2},"encoding":{"x":{"datum":0,"type":"quantitative","scale":{"domain":[0,1],"range":[40,166],"nice":false,"zero":false},"axis":null},"y":{"field":"r","type":"nominal","sort":null,"axis":null,"scale":{"type":"band","domain":["h","hph","YAR064W","mCherry","MATa1"],"range":[41,254],"paddingInner":0,"paddingOuter":0}}}},
   {"transform":[{"filter":"datum.r=='h'"}],"mark":{"type":"text","text":"(a)","font":"Liberation Serif","fontWeight":"bold","align":"left","baseline":"alphabetic","fontSize":23,"dx":-23.3,"dy":-33.3},"encoding":{"x":{"datum":0,"type":"quantitative","scale":{"domain":[0,1],"range":[40,166],"nice":false,"zero":false},"axis":null},"y":{"field":"r","type":"nominal","sort":null,"axis":null,"scale":{"type":"band","domain":["h","hph","YAR064W","mCherry","MATa1"],"range":[41,254],"paddingInner":0,"paddingOuter":0}}}}
  ]},
  {"layer":[
   {"mark":{"type":"rect","fill":"white","fillOpacity":0,"stroke":"#333","strokeWidth":1.5},"encoding":{"x":{"datum":0,"type":"quantitative","scale":{"domain":[0,1],"range":[166,248],"nice":false,"zero":false},"axis":null},"x2":{"datum":1},"y":{"field":"r","type":"nominal","sort":null,"axis":null,"scale":{"type":"band","domain":["h","hph","YAR064W","mCherry","MATa1"],"range":[41,254],"paddingInner":0,"paddingOuter":0}}}},
   {"transform":[{"filter":"datum.r=='h'"}],"mark":{"type":"text","baseline":"middle","fontSize":19,"lineBreak":"\n","lineHeight":20,"dx":-3,"dy":-10},"encoding":{"x":{"datum":0.5,"type":"quantitative","scale":{"domain":[0,1],"range":[166,248],"nice":false,"zero":false},"axis":null},"y":{"field":"r","type":"nominal","sort":null,"axis":null,"scale":{"type":"band","domain":["h","hph","YAR064W","mCherry","MATa1"],"range":[41,254],"paddingInner":0,"paddingOuter":0}},"text":{"field":"l"}}},
   {"transform":[{"filter":"datum.r!='h'"}],"mark":{"type":"text","baseline":"middle","fontSize":20,"dx":-3},"encoding":{"x":{"datum":0.5,"type":"quantitative","scale":{"domain":[0,1],"range":[166,248],"nice":false,"zero":false},"axis":null},"y":{"field":"r","type":"nominal","sort":null,"axis":null,"scale":{"type":"band","domain":["h","hph","YAR064W","mCherry","MATa1"],"range":[41,254],"paddingInner":0,"paddingOuter":0}},"text":{"field":"l"}}}
  ]},
  {"layer":[
   {"mark":{"type":"rect","fill":"white","fillOpacity":0,"stroke":"#333","strokeWidth":1.5},"encoding":{"x":{"datum":0,"type":"quantitative","scale":{"domain":[0,1],"range":[248,348],"nice":false,"zero":false},"axis":null},"x2":{"datum":1},"y":{"field":"r","type":"nominal","sort":null,"axis":null,"scale":{"type":"band","domain":["h","hph","YAR064W","mCherry","MATa1"],"range":[41,254],"paddingInner":0,"paddingOuter":0}}}},
   {"transform":[{"filter":"isValid(datum.p)"}],"mark":{"type":"text","baseline":"middle","fontSize":20,"dx":-4},"encoding":{"x":{"datum":0.5,"type":"quantitative","scale":{"domain":[0,1],"range":[248,348],"nice":false,"zero":false},"axis":null},"y":{"field":"r","type":"nominal","sort":null,"axis":null,"scale":{"type":"band","domain":["h","hph","YAR064W","mCherry","MATa1"],"range":[41,254],"paddingInner":0,"paddingOuter":0}},"text":{"field":"p"}}},
   {"transform":[{"filter":"isValid(datum.pb)"}],"mark":{"type":"text","align":"right","baseline":"middle","fontSize":20,"dx":29.5},"encoding":{"x":{"datum":0.5,"type":"quantitative","scale":{"domain":[0,1],"range":[248,348],"nice":false,"zero":false},"axis":null},"y":{"field":"r","type":"nominal","sort":null,"axis":null,"scale":{"type":"band","domain":["h","hph","YAR064W","mCherry","MATa1"],"range":[41,254],"paddingInner":0,"paddingOuter":0}},"text":{"field":"pb"}}},
   {"transform":[{"filter":"isValid(datum.pe)"}],"mark":{"type":"text","align":"left","baseline":"middle","fontSize":12,"dx":30.5,"dy":-8.5},"encoding":{"x":{"datum":0.5,"type":"quantitative","scale":{"domain":[0,1],"range":[248,348],"nice":false,"zero":false},"axis":null},"y":{"field":"r","type":"nominal","sort":null,"axis":null,"scale":{"type":"band","domain":["h","hph","YAR064W","mCherry","MATa1"],"range":[41,254],"paddingInner":0,"paddingOuter":0}},"text":{"field":"pe"}}}
  ]},
  {"layer":[
   {"mark":{"type":"rect","fill":"white","fillOpacity":0,"stroke":"#333","strokeWidth":1.5},"encoding":{"x":{"datum":0,"type":"quantitative","scale":{"domain":[0,1],"range":[348,449],"nice":false,"zero":false},"axis":null},"x2":{"datum":1},"y":{"field":"r","type":"nominal","sort":null,"axis":null,"scale":{"type":"band","domain":["h","hph","YAR064W","mCherry","MATa1"],"range":[41,254],"paddingInner":0,"paddingOuter":0}}}},
   {"transform":[{"filter":"datum.r=='h'"}],"mark":{"type":"text","baseline":"middle","fontSize":19,"lineBreak":"\n","lineHeight":20,"dx":-5,"dy":-10},"encoding":{"x":{"datum":0.5,"type":"quantitative","scale":{"domain":[0,1],"range":[348,449],"nice":false,"zero":false},"axis":null},"y":{"field":"r","type":"nominal","sort":null,"axis":null,"scale":{"type":"band","domain":["h","hph","YAR064W","mCherry","MATa1"],"range":[41,254],"paddingInner":0,"paddingOuter":0}},"text":{"field":"f"}}},
   {"transform":[{"filter":"isValid(datum.f) && datum.r!='h'"}],"mark":{"type":"text","baseline":"middle","fontSize":20,"dx":-5},"encoding":{"x":{"datum":0.5,"type":"quantitative","scale":{"domain":[0,1],"range":[348,449],"nice":false,"zero":false},"axis":null},"y":{"field":"r","type":"nominal","sort":null,"axis":null,"scale":{"type":"band","domain":["h","hph","YAR064W","mCherry","MATa1"],"range":[41,254],"paddingInner":0,"paddingOuter":0}},"text":{"field":"f"}}},
   {"transform":[{"filter":"isValid(datum.fb)"}],"mark":{"type":"text","align":"right","baseline":"middle","fontSize":20,"dx":28.2},"encoding":{"x":{"datum":0.5,"type":"quantitative","scale":{"domain":[0,1],"range":[348,449],"nice":false,"zero":false},"axis":null},"y":{"field":"r","type":"nominal","sort":null,"axis":null,"scale":{"type":"band","domain":["h","hph","YAR064W","mCherry","MATa1"],"range":[41,254],"paddingInner":0,"paddingOuter":0}},"text":{"field":"fb"}}},
   {"transform":[{"filter":"isValid(datum.fe)"}],"mark":{"type":"text","align":"left","baseline":"middle","fontSize":12,"dx":29.5,"dy":-8.5},"encoding":{"x":{"datum":0.5,"type":"quantitative","scale":{"domain":[0,1],"range":[348,449],"nice":false,"zero":false},"axis":null},"y":{"field":"r","type":"nominal","sort":null,"axis":null,"scale":{"type":"band","domain":["h","hph","YAR064W","mCherry","MATa1"],"range":[41,254],"paddingInner":0,"paddingOuter":0}},"text":{"field":"fe"}}}
  ]},
  {"transform":[{"filter":"datum.r=='h'"}],"mark":{"type":"text","text":"spore-autonomous","baseline":"alphabetic","fontSize":24,"dx":4.3,"dy":-31.6},"encoding":{"x":{"datum":0.5,"type":"quantitative","scale":{"domain":[0,1],"range":[40,449],"nice":false,"zero":false},"axis":null},"y":{"field":"r","type":"nominal","sort":null,"axis":null,"scale":{"type":"band","domain":["h","hph","YAR064W","mCherry","MATa1"],"range":[41,254],"paddingInner":0,"paddingOuter":0}}}}
 ],
 "resolve":{"scale":{"x":"independent"}}
},
{"data":{"name":"t2"},
 "layer":[
  {"layer":[
   {"mark":{"type":"rect","fill":"white","fillOpacity":0,"stroke":"#333","strokeWidth":1.5},"encoding":{"x":{"datum":0,"type":"quantitative","scale":{"domain":[0,1],"range":[477,603],"nice":false,"zero":false},"axis":null},"x2":{"datum":1},"y":{"field":"r","type":"nominal","sort":null,"axis":null,"scale":{"type":"band","domain":["h","MATα1","MATα2","STE2","STE3","MFα1","MFA1","ASG7"],"range":[42,377],"paddingInner":0,"paddingOuter":0}}}},
   {"transform":[{"filter":"datum.r=='h'"}],"mark":{"type":"text","align":"left","baseline":"middle","fontSize":20,"dx":7},"encoding":{"x":{"datum":0,"type":"quantitative","scale":{"domain":[0,1],"range":[477,603],"nice":false,"zero":false},"axis":null},"y":{"field":"r","type":"nominal","sort":null,"axis":null,"scale":{"type":"band","domain":["h","MATα1","MATα2","STE2","STE3","MFα1","MFA1","ASG7"],"range":[42,377],"paddingInner":0,"paddingOuter":0}},"text":{"field":"g"}}},
   {"transform":[{"filter":"datum.r!='h'"}],"mark":{"type":"text","align":"left","baseline":"middle","fontSize":20,"fontStyle":"italic","dx":7},"encoding":{"x":{"datum":0,"type":"quantitative","scale":{"domain":[0,1],"range":[477,603],"nice":false,"zero":false},"axis":null},"y":{"field":"r","type":"nominal","sort":null,"axis":null,"scale":{"type":"band","domain":["h","MATα1","MATα2","STE2","STE3","MFα1","MFA1","ASG7"],"range":[42,377],"paddingInner":0,"paddingOuter":0}},"text":{"field":"g"}}}
  ]},
  {"layer":[
   {"mark":{"type":"rect","fill":"white","fillOpacity":0,"stroke":"#333","strokeWidth":1.5},"encoding":{"x":{"datum":0,"type":"quantitative","scale":{"domain":[0,1],"range":[603,686],"nice":false,"zero":false},"axis":null},"x2":{"datum":1},"y":{"field":"r","type":"nominal","sort":null,"axis":null,"scale":{"type":"band","domain":["h","MATα1","MATα2","STE2","STE3","MFα1","MFA1","ASG7"],"range":[42,377],"paddingInner":0,"paddingOuter":0}}}},
   {"transform":[{"filter":"datum.r=='h'"}],"mark":{"type":"text","baseline":"middle","fontSize":19,"lineBreak":"\n","lineHeight":20,"dy":-10},"encoding":{"x":{"datum":0.5,"type":"quantitative","scale":{"domain":[0,1],"range":[603,686],"nice":false,"zero":false},"axis":null},"y":{"field":"r","type":"nominal","sort":null,"axis":null,"scale":{"type":"band","domain":["h","MATα1","MATα2","STE2","STE3","MFα1","MFA1","ASG7"],"range":[42,377],"paddingInner":0,"paddingOuter":0}},"text":{"field":"l"}}},
   {"transform":[{"filter":"datum.r!='h'"}],"mark":{"type":"text","baseline":"middle","fontSize":20,"dx":3},"encoding":{"x":{"datum":0.5,"type":"quantitative","scale":{"domain":[0,1],"range":[603,686],"nice":false,"zero":false},"axis":null},"y":{"field":"r","type":"nominal","sort":null,"axis":null,"scale":{"type":"band","domain":["h","MATα1","MATα2","STE2","STE3","MFα1","MFA1","ASG7"],"range":[42,377],"paddingInner":0,"paddingOuter":0}},"text":{"field":"l"}}}
  ]},
  {"layer":[
   {"mark":{"type":"rect","fill":"white","fillOpacity":0,"stroke":"#333","strokeWidth":1.5},"encoding":{"x":{"datum":0,"type":"quantitative","scale":{"domain":[0,1],"range":[686,789],"nice":false,"zero":false},"axis":null},"x2":{"datum":1},"y":{"field":"r","type":"nominal","sort":null,"axis":null,"scale":{"type":"band","domain":["h","MATα1","MATα2","STE2","STE3","MFα1","MFA1","ASG7"],"range":[42,377],"paddingInner":0,"paddingOuter":0}}}},
   {"mark":{"type":"text","baseline":"middle","fontSize":20,"dx":-3},"encoding":{"x":{"datum":0.5,"type":"quantitative","scale":{"domain":[0,1],"range":[686,789],"nice":false,"zero":false},"axis":null},"y":{"field":"r","type":"nominal","sort":null,"axis":null,"scale":{"type":"band","domain":["h","MATα1","MATα2","STE2","STE3","MFα1","MFA1","ASG7"],"range":[42,377],"paddingInner":0,"paddingOuter":0}},"text":{"field":"p"}}}
  ]},
  {"layer":[
   {"mark":{"type":"rect","fill":"white","fillOpacity":0,"stroke":"#333","strokeWidth":1.5},"encoding":{"x":{"datum":0,"type":"quantitative","scale":{"domain":[0,1],"range":[789,879],"nice":false,"zero":false},"axis":null},"x2":{"datum":1},"y":{"field":"r","type":"nominal","sort":null,"axis":null,"scale":{"type":"band","domain":["h","MATα1","MATα2","STE2","STE3","MFα1","MFA1","ASG7"],"range":[42,377],"paddingInner":0,"paddingOuter":0}}}},
   {"transform":[{"filter":"datum.r=='h'"}],"mark":{"type":"text","baseline":"middle","fontSize":19,"lineBreak":"\n","lineHeight":20,"dy":-10},"encoding":{"x":{"datum":0.5,"type":"quantitative","scale":{"domain":[0,1],"range":[789,879],"nice":false,"zero":false},"axis":null},"y":{"field":"r","type":"nominal","sort":null,"axis":null,"scale":{"type":"band","domain":["h","MATα1","MATα2","STE2","STE3","MFα1","MFA1","ASG7"],"range":[42,377],"paddingInner":0,"paddingOuter":0}},"text":{"field":"f"}}},
   {"transform":[{"filter":"datum.r!='h'"}],"mark":{"type":"text","baseline":"middle","fontSize":20,"dx":-5},"encoding":{"x":{"datum":0.5,"type":"quantitative","scale":{"domain":[0,1],"range":[789,879],"nice":false,"zero":false},"axis":null},"y":{"field":"r","type":"nominal","sort":null,"axis":null,"scale":{"type":"band","domain":["h","MATα1","MATα2","STE2","STE3","MFα1","MFA1","ASG7"],"range":[42,377],"paddingInner":0,"paddingOuter":0}},"text":{"field":"f"}}}
  ]},
  {"transform":[{"filter":"datum.r=='h'"}],"mark":{"type":"text","text":"shared","baseline":"alphabetic","fontSize":24,"dx":7.5,"dy":-31.2},"encoding":{"x":{"datum":0.5,"type":"quantitative","scale":{"domain":[0,1],"range":[477,879],"nice":false,"zero":false},"axis":null},"y":{"field":"r","type":"nominal","sort":null,"axis":null,"scale":{"type":"band","domain":["h","MATα1","MATα2","STE2","STE3","MFα1","MFA1","ASG7"],"range":[42,377],"paddingInner":0,"paddingOuter":0}}}}
 ],
 "resolve":{"scale":{"x":"independent"}}
},
{"layer":[
  {"data":{"name":"cov"},"transform":[{"filter":"datum.k=='P1A2'"}],"mark":{"type":"area","interpolate":"step-after","color":"#000"},"encoding":{"x":{"field":"x","type":"quantitative","scale":{"domain":[218,1232],"range":[542.7,880.7],"nice":false,"zero":false},"axis":null},"y":{"field":"v","type":"quantitative","scale":{"domain":[0,180],"range":[539.1,479.1],"nice":false,"zero":false},"axis":null}}},
  {"data":{"name":"cov"},"transform":[{"filter":"datum.k=='P1B1'"}],"mark":{"type":"area","interpolate":"step-after","color":"#f8384a"},"encoding":{"x":{"field":"x","type":"quantitative","scale":{"domain":[218,1232],"range":[542.7,880.7],"nice":false,"zero":false},"axis":null},"y":{"field":"v","type":"quantitative","scale":{"domain":[0,180],"range":[599.6,539.6],"nice":false,"zero":false},"axis":null}}},
  {"data":{"name":"cov"},"transform":[{"filter":"datum.k=='P1B2'"}],"mark":{"type":"area","interpolate":"step-after","color":"#f8384a"},"encoding":{"x":{"field":"x","type":"quantitative","scale":{"domain":[218,1232],"range":[542.7,880.7],"nice":false,"zero":false},"axis":null},"y":{"field":"v","type":"quantitative","scale":{"domain":[0,180],"range":[660,600],"nice":false,"zero":false},"axis":null}}},
  {"data":{"name":"trk"},"transform":[{"filter":"datum.p=='P1' && datum.s=='α'"}],"mark":{"type":"rule","color":"#000","strokeWidth":2},"encoding":{"x":{"datum":218,"type":"quantitative","scale":{"domain":[218,1232],"range":[542.7,880.7],"nice":false,"zero":false},"axis":null},"x2":{"datum":1232},"y":{"field":"t","type":"nominal","sort":null,"axis":null,"scale":{"type":"point","domain":["α #1","α #2","a #1","a #2"],"range":[478.7,660],"padding":0}}}},
  {"data":{"name":"trk"},"transform":[{"filter":"datum.p=='P1' && datum.s=='a'"}],"mark":{"type":"rule","color":"#f8384a","strokeWidth":2},"encoding":{"x":{"datum":218,"type":"quantitative","scale":{"domain":[218,1232],"range":[542.7,880.7],"nice":false,"zero":false},"axis":null},"x2":{"datum":1232},"y":{"field":"t","type":"nominal","sort":null,"axis":null,"scale":{"type":"point","domain":["α #1","α #2","a #1","a #2"],"range":[478.7,660],"padding":0}}}},
  {"data":{"name":"trk"},"transform":[{"filter":"datum.p=='P1' && datum.s=='α'"}],"mark":{"type":"text","align":"right","baseline":"middle","fontSize":24,"dx":-4},"encoding":{"x":{"datum":218,"type":"quantitative","scale":{"domain":[218,1232],"range":[542.7,880.7],"nice":false,"zero":false},"axis":null},"y":{"field":"t","type":"nominal","sort":null,"axis":null,"scale":{"type":"point","domain":["α #1","α #2","a #1","a #2"],"range":[453,634],"padding":0}},"text":{"field":"t"}}},
  {"data":{"name":"trk"},"transform":[{"filter":"datum.p=='P1' && datum.s=='a'"}],"mark":{"type":"text","align":"right","baseline":"middle","fontSize":24,"dx":-4},"encoding":{"x":{"datum":218,"type":"quantitative","scale":{"domain":[218,1232],"range":[542.7,880.7],"nice":false,"zero":false},"axis":null},"y":{"field":"t","type":"nominal","sort":null,"axis":null,"scale":{"type":"point","domain":["α #1","α #2","a #1","a #2"],"range":[453,634],"padding":0}},"text":{"field":"n"}}},
  {"data":{"name":"trk"},"transform":[{"filter":"datum.p=='P1' && datum.s=='a'"}],"mark":{"type":"text","text":"a","fontWeight":"bold","align":"right","baseline":"middle","fontSize":24,"dx":-37.4},"encoding":{"x":{"datum":218,"type":"quantitative","scale":{"domain":[218,1232],"range":[542.7,880.7],"nice":false,"zero":false},"axis":null},"y":{"field":"t","type":"nominal","sort":null,"axis":null,"scale":{"type":"point","domain":["α #1","α #2","a #1","a #2"],"range":[453,634],"padding":0}}}},
  {"data":{"name":"lines"},"transform":[{"filter":"datum.p=='P1'"}],"mark":{"type":"rule","color":"#333","strokeWidth":1.2},"encoding":{"x":{"field":"s","type":"quantitative","scale":{"domain":[218,1232],"range":[542.7,880.7],"nice":false,"zero":false},"axis":null},"x2":{"field":"e"},"y":{"datum":0,"type":"quantitative","scale":{"domain":[-1,1],"range":[685.3,666],"nice":false,"zero":false},"axis":null}}},
  {"data":{"name":"shapes"},"transform":[{"filter":"datum.p=='P1'"}],"mark":{"type":"area","orient":"vertical","fill":"#c8c8c8","stroke":"#333","strokeWidth":1.2},"encoding":{"x":{"field":"x","type":"quantitative","scale":{"domain":[218,1232],"range":[542.7,880.7],"nice":false,"zero":false},"axis":null},"y":{"field":"y","type":"quantitative","scale":{"domain":[-1,1],"range":[685.3,666],"nice":false,"zero":false},"axis":null},"y2":{"field":"y2"},"detail":{"field":"id"},"order":{"value":null}}},
  {"data":{"name":"panels"},"transform":[{"filter":"datum.p=='P1'"}],"mark":{"type":"text","text":"MAT","align":"left","baseline":"middle","fontSize":19,"fontStyle":"italic","dx":-30.6},"encoding":{"x":{"datum":782,"type":"quantitative","scale":{"domain":[218,1232],"range":[542.7,880.7],"nice":false,"zero":false},"axis":null},"y":{"datum":0,"type":"quantitative","scale":{"domain":[-1,1],"range":[685.3,666],"nice":false,"zero":false},"axis":null}}},
  {"data":{"name":"panels"},"transform":[{"filter":"datum.p=='P1'"}],"mark":{"type":"text","text":"a","align":"left","baseline":"middle","fontSize":19,"fontWeight":"bold","dx":9.5},"encoding":{"x":{"datum":782,"type":"quantitative","scale":{"domain":[218,1232],"range":[542.7,880.7],"nice":false,"zero":false},"axis":null},"y":{"datum":0,"type":"quantitative","scale":{"domain":[-1,1],"range":[685.3,666],"nice":false,"zero":false},"axis":null}}},
  {"data":{"name":"panels"},"transform":[{"filter":"datum.p=='P1'"}],"mark":{"type":"text","text":"1","align":"left","baseline":"middle","fontSize":19,"fontStyle":"italic","dx":20.1},"encoding":{"x":{"datum":782,"type":"quantitative","scale":{"domain":[218,1232],"range":[542.7,880.7],"nice":false,"zero":false},"axis":null},"y":{"datum":0,"type":"quantitative","scale":{"domain":[-1,1],"range":[685.3,666],"nice":false,"zero":false},"axis":null}}},
  {"data":{"name":"panels"},"transform":[{"filter":"datum.p=='P1'"}],"mark":{"type":"rect","fill":"white","fillOpacity":0,"stroke":"#888","strokeWidth":1.2},"encoding":{"x":{"datum":218,"type":"quantitative","scale":{"domain":[218,1232],"range":[542.7,880.7],"nice":false,"zero":false},"axis":null},"x2":{"datum":1232},"y":{"datum":0,"type":"quantitative","scale":{"domain":[0,1],"range":[691.7,430.7],"nice":false,"zero":false},"axis":null},"y2":{"datum":1}}},
  {"data":{"name":"panels"},"transform":[{"filter":"datum.p=='P1'"}],"mark":{"type":"text","baseline":"alphabetic","fontSize":24,"dy":-10},"encoding":{"x":{"datum":734,"type":"quantitative","scale":{"domain":[218,1232],"range":[542.7,880.7],"nice":false,"zero":false},"axis":null},"y":{"datum":1,"type":"quantitative","scale":{"domain":[0,1],"range":[691.7,430.7],"nice":false,"zero":false},"axis":null},"text":{"field":"title"}}}
 ],
 "resolve":{"scale":{"y":"independent"}}
},
{"layer":[
  {"data":{"name":"cov"},"transform":[{"filter":"datum.k=='P2A1'"}],"mark":{"type":"area","interpolate":"step-after","color":"#000"},"encoding":{"x":{"field":"x","type":"quantitative","scale":{"domain":[210,1223],"range":[540,877.7],"nice":false,"zero":false},"axis":null},"y":{"field":"v","type":"quantitative","scale":{"domain":[0,180],"range":[787.3,727.3],"nice":false,"zero":false},"axis":null}}},
  {"data":{"name":"cov"},"transform":[{"filter":"datum.k=='P2A2'"}],"mark":{"type":"area","interpolate":"step-after","color":"#000"},"encoding":{"x":{"field":"x","type":"quantitative","scale":{"domain":[210,1223],"range":[540,877.7],"nice":false,"zero":false},"axis":null},"y":{"field":"v","type":"quantitative","scale":{"domain":[0,180],"range":[847.6,787.6],"nice":false,"zero":false},"axis":null}}},
  {"data":{"name":"cov"},"transform":[{"filter":"datum.k=='P2B1'"}],"mark":{"type":"area","interpolate":"step-after","color":"#f8384a"},"encoding":{"x":{"field":"x","type":"quantitative","scale":{"domain":[210,1223],"range":[540,877.7],"nice":false,"zero":false},"axis":null},"y":{"field":"v","type":"quantitative","scale":{"domain":[0,180],"range":[907.9,847.9],"nice":false,"zero":false},"axis":null}}},
  {"data":{"name":"cov"},"transform":[{"filter":"datum.k=='P2B2'"}],"mark":{"type":"area","interpolate":"step-after","color":"#f8384a"},"encoding":{"x":{"field":"x","type":"quantitative","scale":{"domain":[210,1223],"range":[540,877.7],"nice":false,"zero":false},"axis":null},"y":{"field":"v","type":"quantitative","scale":{"domain":[0,180],"range":[968.3,908.3],"nice":false,"zero":false},"axis":null}}},
  {"data":{"name":"trk"},"transform":[{"filter":"datum.p=='P2' && datum.s=='α'"}],"mark":{"type":"rule","color":"#000","strokeWidth":2},"encoding":{"x":{"datum":210,"type":"quantitative","scale":{"domain":[210,1223],"range":[540,877.7],"nice":false,"zero":false},"axis":null},"x2":{"datum":1223},"y":{"field":"t","type":"nominal","sort":null,"axis":null,"scale":{"type":"point","domain":["α #1","α #2","a #1","a #2"],"range":[787.3,968.3],"padding":0}}}},
  {"data":{"name":"trk"},"transform":[{"filter":"datum.p=='P2' && datum.s=='a'"}],"mark":{"type":"rule","color":"#f8384a","strokeWidth":2},"encoding":{"x":{"datum":210,"type":"quantitative","scale":{"domain":[210,1223],"range":[540,877.7],"nice":false,"zero":false},"axis":null},"x2":{"datum":1223},"y":{"field":"t","type":"nominal","sort":null,"axis":null,"scale":{"type":"point","domain":["α #1","α #2","a #1","a #2"],"range":[787.3,968.3],"padding":0}}}},
  {"data":{"name":"trk"},"transform":[{"filter":"datum.p=='P2' && datum.s=='α'"}],"mark":{"type":"text","align":"right","baseline":"middle","fontSize":24,"dx":-7},"encoding":{"x":{"datum":210,"type":"quantitative","scale":{"domain":[210,1223],"range":[540,877.7],"nice":false,"zero":false},"axis":null},"y":{"field":"t","type":"nominal","sort":null,"axis":null,"scale":{"type":"point","domain":["α #1","α #2","a #1","a #2"],"range":[768,949],"padding":0}},"text":{"field":"t"}}},
  {"data":{"name":"trk"},"transform":[{"filter":"datum.p=='P2' && datum.s=='a'"}],"mark":{"type":"text","align":"right","baseline":"middle","fontSize":24,"dx":-7},"encoding":{"x":{"datum":210,"type":"quantitative","scale":{"domain":[210,1223],"range":[540,877.7],"nice":false,"zero":false},"axis":null},"y":{"field":"t","type":"nominal","sort":null,"axis":null,"scale":{"type":"point","domain":["α #1","α #2","a #1","a #2"],"range":[768,949],"padding":0}},"text":{"field":"n"}}},
  {"data":{"name":"trk"},"transform":[{"filter":"datum.p=='P2' && datum.s=='a'"}],"mark":{"type":"text","text":"a","fontWeight":"bold","align":"right","baseline":"middle","fontSize":24,"dx":-40.4},"encoding":{"x":{"datum":210,"type":"quantitative","scale":{"domain":[210,1223],"range":[540,877.7],"nice":false,"zero":false},"axis":null},"y":{"field":"t","type":"nominal","sort":null,"axis":null,"scale":{"type":"point","domain":["α #1","α #2","a #1","a #2"],"range":[768,949],"padding":0}}}},
  {"data":{"name":"shapes"},"transform":[{"filter":"datum.p=='P2'"}],"mark":{"type":"area","orient":"vertical","fill":"#c8c8c8","stroke":"#333","strokeWidth":1.2},"encoding":{"x":{"field":"x","type":"quantitative","scale":{"domain":[210,1223],"range":[540,877.7],"nice":false,"zero":false},"axis":null},"y":{"field":"y","type":"quantitative","scale":{"domain":[-1,1],"range":[1004,974.3],"nice":false,"zero":false},"axis":null},"y2":{"field":"y2"},"detail":{"field":"id"},"order":{"value":null}}},
  {"data":{"name":"panels"},"transform":[{"filter":"datum.p=='P2'"}],"mark":{"type":"text","fontSize":18,"fontStyle":"italic","baseline":"middle"},"encoding":{"x":{"datum":695,"type":"quantitative","scale":{"domain":[210,1223],"range":[540,877.7],"nice":false,"zero":false},"axis":null},"y":{"datum":0,"type":"quantitative","scale":{"domain":[-1,1],"range":[1004,974.3],"nice":false,"zero":false},"axis":null},"text":{"field":"gene"}}},
  {"data":{"name":"panels"},"transform":[{"filter":"datum.p=='P2'"}],"mark":{"type":"rect","fill":"white","fillOpacity":0,"stroke":"#888","strokeWidth":1.2},"encoding":{"x":{"datum":210,"type":"quantitative","scale":{"domain":[210,1223],"range":[540,877.7],"nice":false,"zero":false},"axis":null},"x2":{"datum":1223},"y":{"datum":0,"type":"quantitative","scale":{"domain":[0,1],"range":[1004,729],"nice":false,"zero":false},"axis":null},"y2":{"datum":1}}},
  {"data":{"name":"panels"},"transform":[{"filter":"datum.p=='P2'"}],"mark":{"type":"text","baseline":"alphabetic","fontSize":24,"dy":-6.3},"encoding":{"x":{"datum":709,"type":"quantitative","scale":{"domain":[210,1223],"range":[540,877.7],"nice":false,"zero":false},"axis":null},"y":{"datum":1,"type":"quantitative","scale":{"domain":[0,1],"range":[1004,729],"nice":false,"zero":false},"axis":null},"text":{"field":"title"}}}
 ],
 "resolve":{"scale":{"y":"independent"}}
},
{"layer":[
  {"data":{"name":"cov"},"transform":[{"filter":"datum.k=='P3A1'"}],"mark":{"type":"area","interpolate":"step-after","color":"#000"},"encoding":{"x":{"field":"x","type":"quantitative","scale":{"domain":[205,1218],"range":[538.3,876],"nice":false,"zero":false},"axis":null},"y":{"field":"v","type":"quantitative","scale":{"domain":[0,180],"range":[1105,1045],"nice":false,"zero":false},"axis":null}}},
  {"data":{"name":"cov"},"transform":[{"filter":"datum.k=='P3A2'"}],"mark":{"type":"area","interpolate":"step-after","color":"#000"},"encoding":{"x":{"field":"x","type":"quantitative","scale":{"domain":[205,1218],"range":[538.3,876],"nice":false,"zero":false},"axis":null},"y":{"field":"v","type":"quantitative","scale":{"domain":[0,180],"range":[1165.6,1105.6],"nice":false,"zero":false},"axis":null}}},
  {"data":{"name":"cov"},"transform":[{"filter":"datum.k=='P3B1'"}],"mark":{"type":"area","interpolate":"step-after","color":"#f8384a"},"encoding":{"x":{"field":"x","type":"quantitative","scale":{"domain":[205,1218],"range":[538.3,876],"nice":false,"zero":false},"axis":null},"y":{"field":"v","type":"quantitative","scale":{"domain":[0,180],"range":[1226.1,1166.1],"nice":false,"zero":false},"axis":null}}},
  {"data":{"name":"cov"},"transform":[{"filter":"datum.k=='P3B2'"}],"mark":{"type":"area","interpolate":"step-after","color":"#f8384a"},"encoding":{"x":{"field":"x","type":"quantitative","scale":{"domain":[205,1218],"range":[538.3,876],"nice":false,"zero":false},"axis":null},"y":{"field":"v","type":"quantitative","scale":{"domain":[0,180],"range":[1286.7,1226.7],"nice":false,"zero":false},"axis":null}}},
  {"data":{"name":"trk"},"transform":[{"filter":"datum.p=='P3' && datum.s=='α'"}],"mark":{"type":"rule","color":"#000","strokeWidth":2},"encoding":{"x":{"datum":205,"type":"quantitative","scale":{"domain":[205,1218],"range":[538.3,876],"nice":false,"zero":false},"axis":null},"x2":{"datum":1218},"y":{"field":"t","type":"nominal","sort":null,"axis":null,"scale":{"type":"point","domain":["α #1","α #2","a #1","a #2"],"range":[1105,1286.7],"padding":0}}}},
  {"data":{"name":"trk"},"transform":[{"filter":"datum.p=='P3' && datum.s=='a'"}],"mark":{"type":"rule","color":"#f8384a","strokeWidth":2},"encoding":{"x":{"datum":205,"type":"quantitative","scale":{"domain":[205,1218],"range":[538.3,876],"nice":false,"zero":false},"axis":null},"x2":{"datum":1218},"y":{"field":"t","type":"nominal","sort":null,"axis":null,"scale":{"type":"point","domain":["α #1","α #2","a #1","a #2"],"range":[1105,1286.7],"padding":0}}}},
  {"data":{"name":"trk"},"transform":[{"filter":"datum.p=='P3' && datum.s=='α'"}],"mark":{"type":"text","align":"right","baseline":"middle","fontSize":24,"dx":-5.3},"encoding":{"x":{"datum":205,"type":"quantitative","scale":{"domain":[205,1218],"range":[538.3,876],"nice":false,"zero":false},"axis":null},"y":{"field":"t","type":"nominal","sort":null,"axis":null,"scale":{"type":"point","domain":["α #1","α #2","a #1","a #2"],"range":[1086,1268],"padding":0}},"text":{"field":"t"}}},
  {"data":{"name":"trk"},"transform":[{"filter":"datum.p=='P3' && datum.s=='a'"}],"mark":{"type":"text","align":"right","baseline":"middle","fontSize":24,"dx":-5.3},"encoding":{"x":{"datum":205,"type":"quantitative","scale":{"domain":[205,1218],"range":[538.3,876],"nice":false,"zero":false},"axis":null},"y":{"field":"t","type":"nominal","sort":null,"axis":null,"scale":{"type":"point","domain":["α #1","α #2","a #1","a #2"],"range":[1086,1268],"padding":0}},"text":{"field":"n"}}},
  {"data":{"name":"trk"},"transform":[{"filter":"datum.p=='P3' && datum.s=='a'"}],"mark":{"type":"text","text":"a","fontWeight":"bold","align":"right","baseline":"middle","fontSize":24,"dx":-38.7},"encoding":{"x":{"datum":205,"type":"quantitative","scale":{"domain":[205,1218],"range":[538.3,876],"nice":false,"zero":false},"axis":null},"y":{"field":"t","type":"nominal","sort":null,"axis":null,"scale":{"type":"point","domain":["α #1","α #2","a #1","a #2"],"range":[1086,1268],"padding":0}}}},
  {"data":{"name":"shapes"},"transform":[{"filter":"datum.p=='P3'"}],"mark":{"type":"area","orient":"vertical","fill":"#c8c8c8","stroke":"#333","strokeWidth":1.2},"encoding":{"x":{"field":"x","type":"quantitative","scale":{"domain":[205,1218],"range":[538.3,876],"nice":false,"zero":false},"axis":null},"y":{"field":"y","type":"quantitative","scale":{"domain":[-1,1],"range":[1322,1293.3],"nice":false,"zero":false},"axis":null},"y2":{"field":"y2"},"detail":{"field":"id"},"order":{"value":null}}},
  {"data":{"name":"panels"},"transform":[{"filter":"datum.p=='P3'"}],"mark":{"type":"text","fontSize":20,"fontStyle":"italic","baseline":"middle"},"encoding":{"x":{"datum":700,"type":"quantitative","scale":{"domain":[205,1218],"range":[538.3,876],"nice":false,"zero":false},"axis":null},"y":{"datum":0,"type":"quantitative","scale":{"domain":[-1,1],"range":[1322,1293.3],"nice":false,"zero":false},"axis":null},"text":{"field":"gene"}}},
  {"data":{"name":"panels"},"transform":[{"filter":"datum.p=='P3'"}],"mark":{"type":"rect","fill":"white","fillOpacity":0,"stroke":"#888","strokeWidth":1.2},"encoding":{"x":{"datum":205,"type":"quantitative","scale":{"domain":[205,1218],"range":[538.3,876],"nice":false,"zero":false},"axis":null},"x2":{"datum":1218},"y":{"datum":0,"type":"quantitative","scale":{"domain":[0,1],"range":[1325,1047.3],"nice":false,"zero":false},"axis":null},"y2":{"datum":1}}},
  {"data":{"name":"panels"},"transform":[{"filter":"datum.p=='P3'"}],"mark":{"type":"text","baseline":"alphabetic","fontSize":24,"dy":-5.6},"encoding":{"x":{"datum":677,"type":"quantitative","scale":{"domain":[205,1218],"range":[538.3,876],"nice":false,"zero":false},"axis":null},"y":{"datum":1,"type":"quantitative","scale":{"domain":[0,1],"range":[1325,1047.3],"nice":false,"zero":false},"axis":null},"text":{"field":"title"}}}
 ],
 "resolve":{"scale":{"y":"independent"}}
},
{"layer":[
  {"data":{"name":"cov"},"transform":[{"filter":"datum.k=='P4B1'"}],"mark":{"type":"area","interpolate":"step-after","color":"#f8384a"},"encoding":{"x":{"field":"x","type":"quantitative","scale":{"domain":[236,1248],"range":[78.7,416],"nice":false,"zero":false},"axis":null},"y":{"field":"v","type":"quantitative","scale":{"domain":[0,180],"range":[949.4,889.4],"nice":false,"zero":false},"axis":null}}},
  {"data":{"name":"cov"},"transform":[{"filter":"datum.k=='P4B2'"}],"mark":{"type":"area","interpolate":"step-after","color":"#f8384a"},"encoding":{"x":{"field":"x","type":"quantitative","scale":{"domain":[236,1248],"range":[78.7,416],"nice":false,"zero":false},"axis":null},"y":{"field":"v","type":"quantitative","scale":{"domain":[0,180],"range":[1010,950],"nice":false,"zero":false},"axis":null}}},
  {"data":{"name":"trk"},"transform":[{"filter":"datum.p=='P4' && datum.s=='α'"}],"mark":{"type":"rule","color":"#000","strokeWidth":2},"encoding":{"x":{"datum":236,"type":"quantitative","scale":{"domain":[236,1248],"range":[78.7,416],"nice":false,"zero":false},"axis":null},"x2":{"datum":1248},"y":{"field":"t","type":"nominal","sort":null,"axis":null,"scale":{"type":"point","domain":["α #1","α #2","a #1","a #2"],"range":[828.3,1010],"padding":0}}}},
  {"data":{"name":"trk"},"transform":[{"filter":"datum.p=='P4' && datum.s=='a'"}],"mark":{"type":"rule","color":"#f8384a","strokeWidth":2},"encoding":{"x":{"datum":236,"type":"quantitative","scale":{"domain":[236,1248],"range":[78.7,416],"nice":false,"zero":false},"axis":null},"x2":{"datum":1248},"y":{"field":"t","type":"nominal","sort":null,"axis":null,"scale":{"type":"point","domain":["α #1","α #2","a #1","a #2"],"range":[828.3,1010],"padding":0}}}},
  {"data":{"name":"trk"},"transform":[{"filter":"datum.p=='P4' && datum.s=='α'"}],"mark":{"type":"text","align":"right","baseline":"middle","fontSize":24,"dx":-2},"encoding":{"x":{"datum":236,"type":"quantitative","scale":{"domain":[236,1248],"range":[78.7,416],"nice":false,"zero":false},"axis":null},"y":{"field":"t","type":"nominal","sort":null,"axis":null,"scale":{"type":"point","domain":["α #1","α #2","a #1","a #2"],"range":[801.7,983.3],"padding":0}},"text":{"field":"t"}}},
  {"data":{"name":"trk"},"transform":[{"filter":"datum.p=='P4' && datum.s=='a'"}],"mark":{"type":"text","align":"right","baseline":"middle","fontSize":24,"dx":-2},"encoding":{"x":{"datum":236,"type":"quantitative","scale":{"domain":[236,1248],"range":[78.7,416],"nice":false,"zero":false},"axis":null},"y":{"field":"t","type":"nominal","sort":null,"axis":null,"scale":{"type":"point","domain":["α #1","α #2","a #1","a #2"],"range":[801.7,983.3],"padding":0}},"text":{"field":"n"}}},
  {"data":{"name":"trk"},"transform":[{"filter":"datum.p=='P4' && datum.s=='a'"}],"mark":{"type":"text","text":"a","fontWeight":"bold","align":"right","baseline":"middle","fontSize":24,"dx":-35.4},"encoding":{"x":{"datum":236,"type":"quantitative","scale":{"domain":[236,1248],"range":[78.7,416],"nice":false,"zero":false},"axis":null},"y":{"field":"t","type":"nominal","sort":null,"axis":null,"scale":{"type":"point","domain":["α #1","α #2","a #1","a #2"],"range":[801.7,983.3],"padding":0}}}},
  {"data":{"name":"shapes"},"transform":[{"filter":"datum.p=='P4'"}],"mark":{"type":"area","orient":"vertical","fill":"#c8c8c8","stroke":"#333","strokeWidth":1.2},"encoding":{"x":{"field":"x","type":"quantitative","scale":{"domain":[236,1248],"range":[78.7,416],"nice":false,"zero":false},"axis":null},"y":{"field":"y","type":"quantitative","scale":{"domain":[-1,1],"range":[1045.7,1016],"nice":false,"zero":false},"axis":null},"y2":{"field":"y2"},"detail":{"field":"id"},"order":{"value":null}}},
  {"data":{"name":"panels"},"transform":[{"filter":"datum.p=='P4'"}],"mark":{"type":"text","fontSize":20,"fontStyle":"italic","baseline":"middle"},"encoding":{"x":{"datum":740,"type":"quantitative","scale":{"domain":[236,1248],"range":[78.7,416],"nice":false,"zero":false},"axis":null},"y":{"datum":0,"type":"quantitative","scale":{"domain":[-1,1],"range":[1045.7,1016],"nice":false,"zero":false},"axis":null},"text":{"field":"gene"}}},
  {"data":{"name":"panels"},"transform":[{"filter":"datum.p=='P4'"}],"mark":{"type":"rect","fill":"white","fillOpacity":0,"stroke":"#888","strokeWidth":1.2},"encoding":{"x":{"datum":236,"type":"quantitative","scale":{"domain":[236,1248],"range":[78.7,416],"nice":false,"zero":false},"axis":null},"x2":{"datum":1248},"y":{"datum":0,"type":"quantitative","scale":{"domain":[0,1],"range":[1044.3,770.7],"nice":false,"zero":false},"axis":null},"y2":{"datum":1}}},
  {"data":{"name":"panels"},"transform":[{"filter":"datum.p=='P4'"}],"mark":{"type":"text","baseline":"alphabetic","fontSize":24,"dy":-9},"encoding":{"x":{"datum":782,"type":"quantitative","scale":{"domain":[236,1248],"range":[78.7,416],"nice":false,"zero":false},"axis":null},"y":{"datum":1,"type":"quantitative","scale":{"domain":[0,1],"range":[1044.3,770.7],"nice":false,"zero":false},"axis":null},"text":{"field":"title"}}},
  {"data":{"name":"panels"},"transform":[{"filter":"datum.p=='P4'"}],"mark":{"type":"text","text":"(b)","font":"Liberation Serif","fontWeight":"bold","align":"left","baseline":"alphabetic","fontSize":23,"dx":-63.7,"dy":-19},"encoding":{"x":{"datum":236,"type":"quantitative","scale":{"domain":[236,1248],"range":[78.7,416],"nice":false,"zero":false},"axis":null},"y":{"datum":1,"type":"quantitative","scale":{"domain":[0,1],"range":[1044.3,770.7],"nice":false,"zero":false},"axis":null}}}
 ],
 "resolve":{"scale":{"y":"independent"}}
},
{"layer":[
  {"data":{"name":"cov"},"transform":[{"filter":"datum.k=='P5A1'"}],"mark":{"type":"area","interpolate":"step-after","color":"#000"},"encoding":{"x":{"field":"x","type":"quantitative","scale":{"domain":[236,1246],"range":[78.7,415.3],"nice":false,"zero":false},"axis":null},"y":{"field":"v","type":"quantitative","scale":{"domain":[0,180],"range":[1108.3,1048.3],"nice":false,"zero":false},"axis":null}}},
  {"data":{"name":"cov"},"transform":[{"filter":"datum.k=='P5B1'"}],"mark":{"type":"area","interpolate":"step-after","color":"#f8384a"},"encoding":{"x":{"field":"x","type":"quantitative","scale":{"domain":[236,1246],"range":[78.7,415.3],"nice":false,"zero":false},"axis":null},"y":{"field":"v","type":"quantitative","scale":{"domain":[0,180],"range":[1228.9,1168.9],"nice":false,"zero":false},"axis":null}}},
  {"data":{"name":"cov"},"transform":[{"filter":"datum.k=='P5B2'"}],"mark":{"type":"area","interpolate":"step-after","color":"#f8384a"},"encoding":{"x":{"field":"x","type":"quantitative","scale":{"domain":[236,1246],"range":[78.7,415.3],"nice":false,"zero":false},"axis":null},"y":{"field":"v","type":"quantitative","scale":{"domain":[0,180],"range":[1289.3,1229.3],"nice":false,"zero":false},"axis":null}}},
  {"data":{"name":"trk"},"transform":[{"filter":"datum.p=='P5' && datum.s=='α'"}],"mark":{"type":"rule","color":"#000","strokeWidth":2},"encoding":{"x":{"datum":236,"type":"quantitative","scale":{"domain":[236,1246],"range":[78.7,415.3],"nice":false,"zero":false},"axis":null},"x2":{"datum":1246},"y":{"field":"t","type":"nominal","sort":null,"axis":null,"scale":{"type":"point","domain":["α #1","α #2","a #1","a #2"],"range":[1108.3,1289.3],"padding":0}}}},
  {"data":{"name":"trk"},"transform":[{"filter":"datum.p=='P5' && datum.s=='a'"}],"mark":{"type":"rule","color":"#f8384a","strokeWidth":2},"encoding":{"x":{"datum":236,"type":"quantitative","scale":{"domain":[236,1246],"range":[78.7,415.3],"nice":false,"zero":false},"axis":null},"x2":{"datum":1246},"y":{"field":"t","type":"nominal","sort":null,"axis":null,"scale":{"type":"point","domain":["α #1","α #2","a #1","a #2"],"range":[1108.3,1289.3],"padding":0}}}},
  {"data":{"name":"trk"},"transform":[{"filter":"datum.p=='P5' && datum.s=='α'"}],"mark":{"type":"text","align":"right","baseline":"middle","fontSize":24,"dx":-4.7},"encoding":{"x":{"datum":236,"type":"quantitative","scale":{"domain":[236,1246],"range":[78.7,415.3],"nice":false,"zero":false},"axis":null},"y":{"field":"t","type":"nominal","sort":null,"axis":null,"scale":{"type":"point","domain":["α #1","α #2","a #1","a #2"],"range":[1086.7,1268.3],"padding":0}},"text":{"field":"t"}}},
  {"data":{"name":"trk"},"transform":[{"filter":"datum.p=='P5' && datum.s=='a'"}],"mark":{"type":"text","align":"right","baseline":"middle","fontSize":24,"dx":-4.7},"encoding":{"x":{"datum":236,"type":"quantitative","scale":{"domain":[236,1246],"range":[78.7,415.3],"nice":false,"zero":false},"axis":null},"y":{"field":"t","type":"nominal","sort":null,"axis":null,"scale":{"type":"point","domain":["α #1","α #2","a #1","a #2"],"range":[1086.7,1268.3],"padding":0}},"text":{"field":"n"}}},
  {"data":{"name":"trk"},"transform":[{"filter":"datum.p=='P5' && datum.s=='a'"}],"mark":{"type":"text","text":"a","fontWeight":"bold","align":"right","baseline":"middle","fontSize":24,"dx":-38.1},"encoding":{"x":{"datum":236,"type":"quantitative","scale":{"domain":[236,1246],"range":[78.7,415.3],"nice":false,"zero":false},"axis":null},"y":{"field":"t","type":"nominal","sort":null,"axis":null,"scale":{"type":"point","domain":["α #1","α #2","a #1","a #2"],"range":[1086.7,1268.3],"padding":0}}}},
  {"data":{"name":"shapes"},"transform":[{"filter":"datum.p=='P5'"}],"mark":{"type":"area","orient":"vertical","fill":"#c8c8c8","stroke":"#333","strokeWidth":1.2},"encoding":{"x":{"field":"x","type":"quantitative","scale":{"domain":[236,1246],"range":[78.7,415.3],"nice":false,"zero":false},"axis":null},"y":{"field":"y","type":"quantitative","scale":{"domain":[-1,1],"range":[1322.6,1294],"nice":false,"zero":false},"axis":null},"y2":{"field":"y2"},"detail":{"field":"id"},"order":{"value":null}}},
  {"data":{"name":"panels"},"transform":[{"filter":"datum.p=='P5'"}],"mark":{"type":"text","fontSize":20,"fontStyle":"italic","baseline":"middle"},"encoding":{"x":{"datum":730,"type":"quantitative","scale":{"domain":[236,1246],"range":[78.7,415.3],"nice":false,"zero":false},"axis":null},"y":{"datum":0,"type":"quantitative","scale":{"domain":[-1,1],"range":[1322.6,1294],"nice":false,"zero":false},"axis":null},"text":{"field":"gene"}}},
  {"data":{"name":"panels"},"transform":[{"filter":"datum.p=='P5'"}],"mark":{"type":"rect","fill":"white","fillOpacity":0,"stroke":"#888","strokeWidth":1.2},"encoding":{"x":{"datum":236,"type":"quantitative","scale":{"domain":[236,1246],"range":[78.7,415.3],"nice":false,"zero":false},"axis":null},"x2":{"datum":1246},"y":{"datum":0,"type":"quantitative","scale":{"domain":[0,1],"range":[1325,1048.3],"nice":false,"zero":false},"axis":null},"y2":{"datum":1}}}
 ],
 "resolve":{"scale":{"y":"independent"}}
}
],
"resolve":{"scale":{"x":"independent","y":"independent"}}
}
